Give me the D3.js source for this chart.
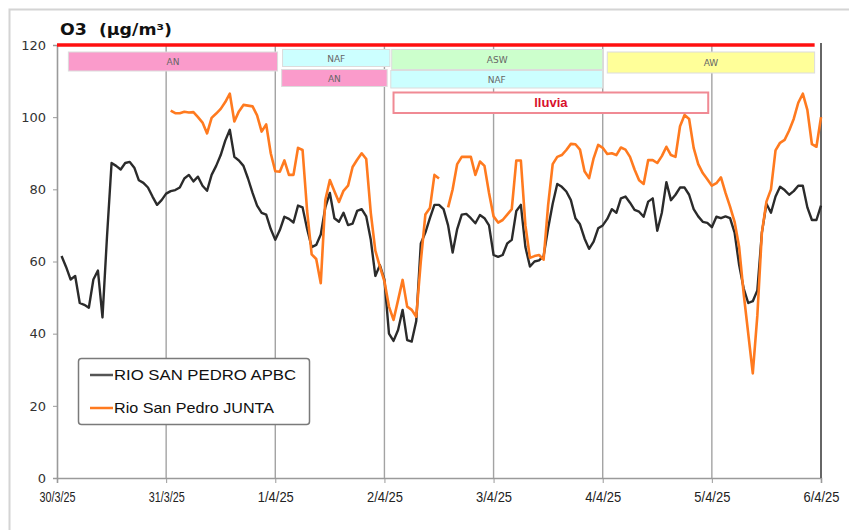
<!DOCTYPE html>
<html><head><meta charset="utf-8">
<script src="https://cdn.jsdelivr.net/npm/d3@7"></script>
<style>html,body{margin:0;padding:0;background:#fff;}svg{display:block;}</style>
</head><body>
<svg id="chart" width="849" height="530"></svg>
<script>
// ---------- DATA ----------
const startUTC = Date.UTC(2025, 2, 30);   // 30/3/25 00:00
const endUTC   = Date.UTC(2025, 3, 6);    // 6/4/25 00:00
const yTicks = [0, 20, 40, 60, 80, 100, 120];
const seriesNames = ["RIO SAN PEDRO APBC", "Rio San Pedro JUNTA"];
const threshold = 120;
// hourly values, hours 1..168
const apbc = [61.5,58.5,55,56,48.5,48,47.2,55,57.5,44.5,
 67,87.3,86.5,85.5,87.3,87.6,86,82.5,81.8,80.5,
 78,75.7,77,78.8,79.5,79.8,80.5,83,84,82.2,
 83.5,81,79.6,84,86.5,89.5,93.5,96.5,89,88,
 86.5,83,79,75.5,73.5,73,69,66,68.7,72.4,
 71.8,70.8,75.5,75,69,64,64.6,67.5,75,79,
 72,71,73.5,70.1,70.5,74,74.5,72.5,66,56,
 59,55,40,38,41,46.6,38.2,37.8,43.5,65,
 68,72,75.7,75.7,74.5,70,62.5,69,73,73.2,
 72,70.6,72.9,72,70,61.8,61.3,61.8,65,66,
 74,75.7,64,58.6,60,60.3,61.5,69.2,76,81.5,
 80.7,79.4,77,72,70.3,66.4,63.5,65.5,69.2,70,
 71.8,74.5,73.5,77.5,78,76.3,74.3,73.8,72.4,76.6,
 77.5,68.5,73.5,82,77,78.5,80.5,80.5,78.5,74.5,
 72.5,71,70.7,69.5,72.4,72,72.5,72,68,59,
 52.5,48.5,49,52,68,76,73.5,78,80.7,79.8,
 78.5,79.5,81,81,75,71.5,71.5,75.5];
const junta = [null,null,null,null,null,null,null,null,null,null,
 null,null,null,null,null,null,null,null,null,null,
 null,null,null,null,
 101.8,101.1,101.1,101.5,101.3,101.4,100,98.5,95.5,99.8,
 101,102.3,104.2,106.5,98.8,101.6,103.4,103.2,103,100.5,
 96,98,90,85,84.9,88,84,84,91.5,90.9,
 74,62,60.7,54,77,82.6,79.5,76.5,79.6,81,
 86.2,88.2,90,88.4,73.5,63,58.6,54.5,47.5,43.8,
 49.3,54.9,47.5,46.6,44.7,60,73,74.8,84,83,
 null,75,80,87,89,89,89,84,87.7,86.5,
 79,72.5,70.8,71.5,73,74.5,88,88,70,61,
 61.5,61.8,60.5,75.7,87,89,89.5,90.9,92.6,92.5,
 91,85,83.1,88.6,92.3,91.5,89.8,90,89.5,91.6,
 91,89,85.5,82.5,81.5,88.1,88.1,87.3,89.2,91.8,
 89.5,89,97.5,100.6,99.5,91.5,87,84.5,82.8,81,
 81.7,83.3,79,75.2,71,64,51,40,29,45,
 68,76.6,80,90.8,92.9,93.7,96.3,99.5,104,106.5,
 102,92.5,91.8,100];
// air-mass / event annotations (start/end in hours from 30/3/25 00:00)
const annLabels = ["AN", "NAF", "AN", "ASW", "NAF", "AW", "lluvia"];
const annStart  = [2.5, 49.6, 49.4, 73.6, 73.4, 121, 74];
const annEnd    = [48.5, 73.2, 72.6, 120, 120, 166.6, 143.2];

// ---------- LAYOUT ----------
const W = 849, H = 530;
const m = {left: 57, right: 821, top: 45, bottom: 478};
const annLayout = [
  {y: 52, h: 19, fill: "#fa9bcb"},
  {y: 49.5, h: 17, fill: "#ccffff"},
  {y: 69.5, h: 17, fill: "#fa9bcb"},
  {y: 49.5, h: 20, fill: "#ccffcc"},
  {y: 70.5, h: 17.5, fill: "#ccffff"},
  {y: 52, h: 21, fill: "#ffff99"},
  {y: 92.5, h: 20.5, fill: "#ffffff"}
];
const colBlack = "#2b2b2b", colOrange = "#ff7a1f";

const svg = d3.select("#chart");
const hourDate = h => new Date(startUTC + h * 3600e3);

const x = d3.scaleUtc().domain([new Date(startUTC), new Date(endUTC)]).range([m.left, m.right]);
const y = d3.scaleLinear().domain([0, 120]).range([m.bottom, m.top]);

// outer frame
svg.append("rect").attr("x", 9.5).attr("y", 9.5).attr("width", 860).attr("height", 540)
  .attr("fill", "none").attr("stroke", "#d4d4d4").attr("stroke-width", 2);

// title
svg.append("text").attr("x", 60).attr("y", 35)
  .attr("font-family", "DejaVu Sans, Verdana, sans-serif").attr("font-weight", "bold")
  .attr("font-size", 15).attr("fill", "#111").attr("xml:space", "preserve")
  .attr("textLength", 112).attr("lengthAdjust", "spacingAndGlyphs")
  .text("O3  (µg/m³)");

// vertical day gridlines
const days = d3.utcDay.range(new Date(startUTC), new Date(endUTC + 1));
svg.append("g").selectAll("line").data(days.slice(1, -1)).join("line")
  .attr("x1", d => x(d)).attr("x2", d => x(d)).attr("y1", m.top).attr("y2", m.bottom)
  .attr("stroke", "#a3a3a3").attr("stroke-width", 1.4);

// axes
const xAxis = d3.axisBottom(x).tickValues(days).tickFormat(d3.utcFormat("%-d/%-m/%y")).tickSize(5).tickPadding(8);
const gx = svg.append("g").attr("transform", `translate(0,${m.bottom})`).call(xAxis);
gx.select(".domain").attr("stroke", "#9a9a9a").attr("stroke-width", 1.6);
gx.selectAll(".tick line").attr("stroke", "#9a9a9a");
gx.selectAll("text").attr("font-family", "Liberation Sans, Arial, sans-serif").attr("font-size", 15)
  .attr("fill", "#222").attr("textLength", 36).attr("lengthAdjust", "spacingAndGlyphs");

const yAxis = d3.axisLeft(y).tickValues(yTicks).tickSize(4).tickPadding(7);
const gy = svg.append("g").attr("transform", `translate(${m.left},0)`).call(yAxis);
gy.select(".domain").attr("stroke", "#9a9a9a").attr("stroke-width", 1.6);
gy.selectAll(".tick line").attr("stroke", "#9a9a9a");
gy.selectAll("text").attr("font-family", "DejaVu Sans, Verdana, sans-serif").attr("font-size", 13).attr("fill", "#333");

// right border
svg.append("line").attr("x1", m.right).attr("x2", m.right).attr("y1", m.top - 2).attr("y2", m.bottom)
  .attr("stroke", "#666").attr("stroke-width", 2);

// threshold line (120)
svg.append("line").attr("x1", x(hourDate(0))).attr("x2", x(hourDate(166.6)))
  .attr("y1", y(threshold)).attr("y2", y(threshold)).attr("stroke", "#ff1010").attr("stroke-width", 3.5);

// annotations
const ann = svg.append("g");
annLabels.forEach((lab, i) => {
  const L = annLayout[i];
  const x0 = x(hourDate(annStart[i])), x1 = x(hourDate(annEnd[i]));
  const isRain = lab === "lluvia";
  ann.append("rect").attr("x", x0).attr("y", L.y).attr("width", x1 - x0).attr("height", L.h)
    .attr("fill", L.fill).attr("stroke", isRain ? "#f08a94" : "#dcdcdc").attr("stroke-width", isRain ? 2 : 1);
  ann.append("text").attr("x", (x0 + x1) / 2).attr("y", L.y + L.h / 2 + (isRain ? 4.5 : 3.5))
    .attr("text-anchor", "middle")
    .attr("font-family", isRain ? "Liberation Sans, Arial, sans-serif" : "DejaVu Sans, Verdana, sans-serif")
    .attr("font-weight", isRain ? "bold" : "normal")
    .attr("font-size", isRain ? 13 : 9).attr("fill", isRain ? "#d8102c" : "#666")
    .text(lab);
});

// lines
const line = d3.line().defined(d => d.v != null).x(d => x(d.t)).y(d => y(d.v));
const toPts = arr => arr.map((v, i) => ({t: hourDate(i + 1), v}));
svg.append("path").datum(toPts(apbc)).attr("d", line).attr("fill", "none")
  .attr("stroke", colBlack).attr("stroke-width", 2.4).attr("stroke-linejoin", "round");
svg.append("path").datum(toPts(junta)).attr("d", line).attr("fill", "none")
  .attr("stroke", colOrange).attr("stroke-width", 2.6).attr("stroke-linejoin", "round");

// legend
const lg = svg.append("g");
lg.append("rect").attr("x", 78.5).attr("y", 358.5).attr("width", 231).attr("height", 66).attr("rx", 3)
  .attr("fill", "#fff").attr("stroke", "#7a7a7a").attr("stroke-width", 1.5);
[colBlack, colOrange].forEach((c, i) => {
  const yy = 375 + i * 33;
  lg.append("line").attr("x1", 90).attr("x2", 113).attr("y1", yy).attr("y2", yy)
    .attr("stroke", i === 0 ? "#555" : c).attr("stroke-width", 2.5);
  lg.append("text").attr("x", 114).attr("y", yy + 5).attr("font-family", "Liberation Sans, Arial, sans-serif")
    .attr("font-size", 14.5).attr("fill", "#111")
    .attr("textLength", i === 0 ? 182 : 160).attr("lengthAdjust", "spacingAndGlyphs")
    .text(seriesNames[i]);
});
</script>
</body></html>
